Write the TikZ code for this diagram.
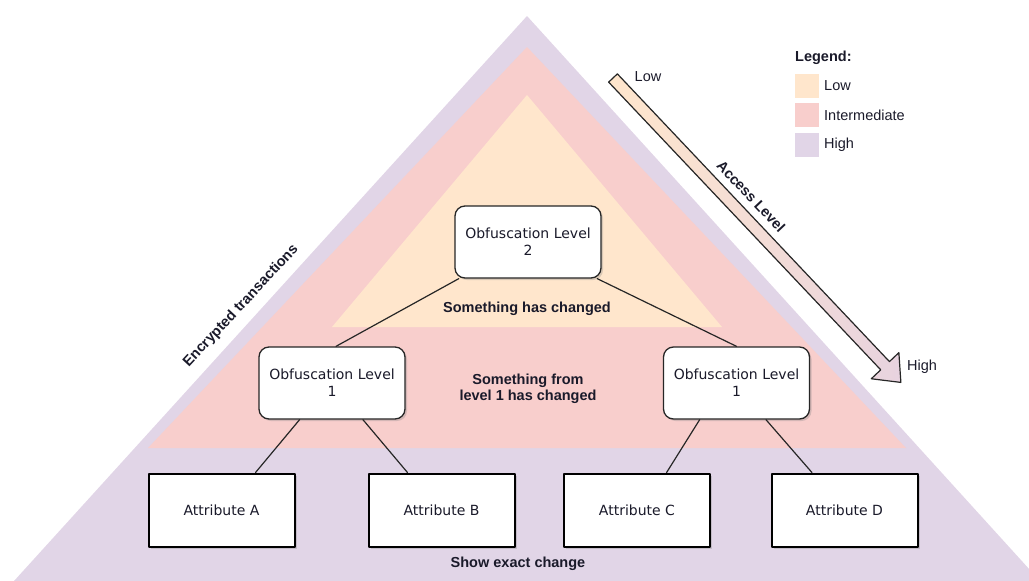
\documentclass[tikz,border=0pt]{standalone}
\usepackage{fontspec}
\setmainfont{Liberation Sans}
\newfontfamily\boxfont{DejaVu Sans}
\usetikzlibrary{calc,shadows}
\definecolor{lowfill}{HTML}{FFE6CC}
\definecolor{midfill}{HTML}{F8CECC}
\definecolor{highfill}{HTML}{E1D5E7}
\definecolor{ink}{HTML}{1A1A2A}
\tikzset{
	boxshadow/.style={drop shadow={opacity=0.3, shadow xshift=2pt, shadow yshift=-2pt}},
	obfbox/.style={draw=black!85, line width=1.3pt, rounded corners=10pt, fill=white, text=ink,
		minimum width=146pt, minimum height=72pt, align=center, boxshadow,
		font=\boxfont\fontsize{14}{17}\selectfont},
	attrbox/.style={draw=black, line width=2pt, fill=white, text=ink, minimum width=146pt,
		minimum height=73pt, boxshadow, font=\boxfont\fontsize{14}{17}\selectfont},
	boldlabel/.style={text=ink, align=center, font=\bfseries\fontsize{14.5}{16}\selectfont},
	plainlabel/.style={text=ink, font=\fontsize{14.5}{17}\selectfont},
	link/.style={draw=black!85, line width=1.2pt}
}
\begin{document}
\begin{tikzpicture}[x=1pt, y=-1pt, line join=round, line cap=round]
	\useasboundingbox (0,0) rectangle (1029,581);
	\clip (0,0) rectangle (1029,581);
	\fill[highfill] (527,16) -- (1040,581) -- (14,581) -- cycle;
	\fill[midfill] (527,47) -- (906,448) -- (148,448) -- cycle;
	\fill[lowfill] (527,95) -- (722,327) -- (332,327) -- cycle;
	
	\node[boldlabel, anchor=west, inner sep=0pt] (legend) at (795,58) {Legend:};
	\foreach \c/\t/\y in {lowfill/Low/86, midfill/Intermediate/115, highfill/High/145} {
		\fill[\c] (795,\y-12) rectangle (819,\y+12);
		\node[plainlabel, anchor=west, inner sep=0pt] at (824,\y) {\t};
	}
	
	\begin{scope}[shift={(613,78)}, rotate=-46.6]
		\shade[draw=black!85, line width=1.2pt, left color=lowfill, right color=highfill!70!midfill]
		(0,6) -- (396,6) -- (396,19) -- (419,0) -- (396,-19) -- (396,-6) -- (0,-6) -- cycle;
		\node[boldlabel, rotate=-46.6] (access) at (181,-19) {Access Level};
	\end{scope}
	\node[plainlabel] (low) at (648,77) {Low};
	\node[plainlabel] (high) at (922,367) {High};
	
	\node[boldlabel, rotate=47] (enc) at (241,306) {Encrypted transactions};
	
	\node[obfbox] (o2) at (528,242) {Obfuscation Level\\2};
	\node[obfbox] (o1l) at (332,383) {Obfuscation Level\\1};
	\node[obfbox] (o1r) at (736.5,383) {Obfuscation Level\\1};
	\foreach \n/\t/\x in {a/A/221.5, b/B/441.5, c/C/637, d/D/844.5}
		\node[attrbox] (\n) at (\x,510) {Attribute \t};
	
	\draw[link] ($(o2.south west)!.03!(o2.south east)$) -- ($(o1l.north)+(4,0)$);
	\draw[link] ($(o2.south west)!.97!(o2.south east)$) -- (o1r.north);
	\foreach \p/\q/\s/\e in {o1l/a/.28/.73, o1l/b/.71/.27, o1r/c/.25/.70, o1r/d/.70/.28}
		\draw[link] ($(\p.south west)!\s!(\p.south east)$) -- ($(\q.north west)!\e!(\q.north east)$);
	
	\node[boldlabel] (chg2) at (527,309) {Something has changed};
	\node[boldlabel] (chg1) at (528,389) {Something from\\level 1 has changed};
	\node[boldlabel] (exact) at (518,564) {Show exact change};
\end{tikzpicture}
\end{document}
